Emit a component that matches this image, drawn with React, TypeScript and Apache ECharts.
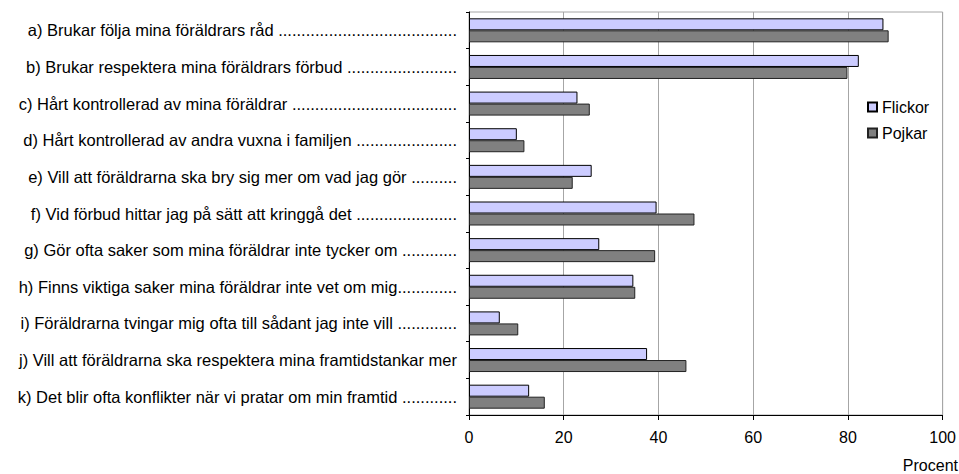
import React, { useEffect, useRef } from "react";
import * as echarts from "echarts";

const categories = [
  "a) Brukar följa mina föräldrars råd .......................................",
  "b) Brukar respektera mina föräldrars förbud ........................",
  "c) Hårt kontrollerad av mina föräldrar ....................................",
  "d) Hårt kontrollerad av andra vuxna i familjen ......................",
  "e) Vill att föräldrarna ska bry sig mer om vad jag gör ..........",
  "f) Vid förbud hittar jag på sätt att kringgå det ......................",
  "g) Gör ofta saker som mina föräldrar inte tycker om ............",
  "h) Finns viktiga saker mina föräldrar inte vet om mig.............",
  "i) Föräldrarna tvingar mig ofta till sådant jag inte vill .............",
  "j) Vill att föräldrarna ska respektera mina framtidstankar mer",
  "k) Det blir ofta konflikter när vi pratar om min framtid ............",
];
const flickor = [87.5, 82.3, 22.9, 10.1, 25.9, 39.6, 27.5, 34.7, 6.5, 37.6, 12.7];
const pojkar = [88.6, 79.9, 25.5, 11.7, 21.9, 47.6, 39.3, 35.1, 10.4, 45.9, 16.0];
const xTicks = [0, 20, 40, 60, 80, 100];
const axisName = "Procent";

const FONT = "'Liberation Sans', Arial, sans-serif";

export default function App() {
  const ref = useRef<HTMLDivElement>(null);
  useEffect(() => {
    if (!ref.current) return;
    const chart = echarts.init(ref.current, undefined, { renderer: "svg" });
    chart.setOption({
      animation: false,
      backgroundColor: "#ffffff",
      textStyle: { fontFamily: FONT },
      grid: {
        left: 469,
        right: 16,
        top: 12,
        bottom: 59,
        show: true,
        borderColor: "#a6a6a6",
        borderWidth: 1,
      },
      legend: {
        orient: "vertical",
        left: 862,
        top: 94,
        itemWidth: 9,
        itemHeight: 9,
        itemGap: 10,
        icon: "rect",
        textStyle: { fontFamily: FONT, fontSize: 16, color: "#000" },
        data: ["Flickor", "Pojkar"],
      },
      xAxis: {
        type: "value",
        min: xTicks[0],
        max: xTicks[xTicks.length - 1],
        interval: 20,
        axisLine: { show: true, lineStyle: { color: "#000", width: 1 } },
        axisTick: { show: true, length: 5, lineStyle: { color: "#000" } },
        axisLabel: { fontFamily: FONT, fontSize: 16, color: "#000", margin: 14 },
        splitLine: { show: true, lineStyle: { color: "#a6a6a6", width: 1 } },
      },
      yAxis: {
        type: "category",
        inverse: true,
        data: categories,
        axisLine: { show: true, lineStyle: { color: "#000", width: 1 } },
        axisTick: { show: true, length: 3, lineStyle: { color: "#000" } },
        axisLabel: {
          fontFamily: FONT,
          fontSize: 16.5,
          color: "#000",
          margin: 12,
          align: "right",
          padding: [4, 0, 0, 0],
        },
      },
      graphic: [
        {
          type: "text",
          right: 1,
          top: 457,
          style: { text: axisName, fontFamily: FONT, fontSize: 16, fill: "#000" },
        },
      ],
      series: [
        {
          name: "Flickor",
          type: "bar",
          data: flickor,
          barWidth: 12,
          barGap: "0%",
          itemStyle: { color: "#ccccff", borderColor: "#000", borderWidth: 1 },
        },
        {
          name: "Pojkar",
          type: "bar",
          data: pojkar,
          barWidth: 12,
          barGap: "0%",
          itemStyle: { color: "#808080", borderColor: "#222", borderWidth: 1 },
        },
      ],
    });
    return () => chart.dispose();
  }, []);
  return (
    <div
      ref={ref}
      style={{ position: "fixed", left: 0, top: 0, width: 959, height: 474 }}
    />
  );
}
